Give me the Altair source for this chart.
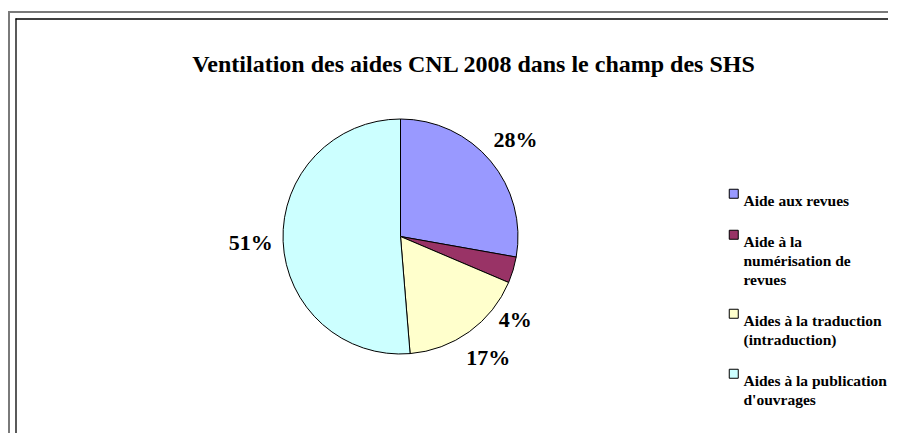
import json
import altair as alt
import pandas as pd

# ---- data ----
categories = [
    "Aide aux revues",
    "Aide à la numérisation de revues",
    "Aides à la traduction (intraduction)",
    "Aides à la publication d'ouvrages",
]
legend_lines = [
    ["Aide aux revues"],
    ["Aide à la", "numérisation de", "revues"],
    ["Aides à la traduction", "(intraduction)"],
    ["Aides à la publication", "d'ouvrages"],
]
shares = [27.8, 3.6, 17.3, 51.3]
pct_labels = ["28%", "4%", "17%", "51%"]
colors = ["#9999FF", "#993366", "#FFFFCC", "#CCFFFF"]
title_text = "Ventilation des aides CNL 2008 dans le champ des SHS"

df = pd.DataFrame({"cat": categories, "share": shares, "label": pct_labels,
                   "idx": list(range(len(categories)))})

FONT = "Liberation Serif"
PAD_TOP = 80
W, H_TOTAL = 881, 425
CX, CY = 392.5, 236.5 - 8 - PAD_TOP
R = 117.5

# legend label expression (multi-line labels)
expr = ""
for c, lines in zip(categories, legend_lines):
    arr = "[" + ",".join(json.dumps(l, ensure_ascii=False) for l in lines) + "]"
    expr += f"datum.label === {json.dumps(c, ensure_ascii=False)} ? {arr} : "
expr += "datum.label"

theta_scale = alt.Scale(domain=[0, 100])

arcs = alt.Chart(df).mark_arc(outerRadius=R, stroke="black", strokeWidth=1).encode(
    theta=alt.Theta("share:Q", stack=True, scale=theta_scale),
    color=alt.Color(
        "cat:N",
        scale=alt.Scale(domain=categories, range=colors),
        legend=alt.Legend(
            title=None, orient="none", legendX=718, legendY=98, padding=0,
            symbolType="square", symbolSize=81, symbolStrokeColor="black",
            symbolStrokeWidth=1, symbolOpacity=1,
            labelFont=FONT, labelFontSize=15.5, labelFontWeight="bold",
            labelColor="black", labelBaseline="top", labelOffset=2,
            labelLimit=400, labelExpr=expr, rowPadding=17,
        ),
    ),
    order=alt.Order("idx:Q"),
    x=alt.value(CX), y=alt.value(CY),
)

lab = alt.Chart(df).transform_window(
    cum="sum(share)", sort=[alt.SortField("idx")], frame=[None, 0]
).transform_calculate(mid="datum.cum - datum.share / 2")

main_labels = lab.transform_filter("datum.share >= 5").mark_text(
    radius=150, font=FONT, fontSize=22, fontWeight="bold", color="black"
).encode(
    theta=alt.Theta("mid:Q", scale=theta_scale), text="label:N",
    x=alt.value(CX), y=alt.value(CY),
)
small_labels = lab.transform_filter("datum.share < 5").mark_text(
    radius=142, thetaOffset=0.34, font=FONT, fontSize=22, fontWeight="bold", color="black"
).encode(
    theta=alt.Theta("mid:Q", scale=theta_scale), text="label:N",
    x=alt.value(CX), y=alt.value(CY),
)

# double frame of the chart sheet (left and top edges; right/bottom lie off-page)
frame_df = pd.DataFrame({"k": [0]})
outer_top = alt.Chart(frame_df).mark_rule(stroke="#7a7a7a", strokeWidth=2).encode(
    x=alt.value(0), x2=alt.value(W - 1), y=alt.value(4 - PAD_TOP))
outer_left = alt.Chart(frame_df).mark_rule(stroke="#7a7a7a", strokeWidth=2).encode(
    x=alt.value(1), y=alt.value(3 - PAD_TOP), y2=alt.value(H_TOTAL - PAD_TOP))
inner_top = alt.Chart(frame_df).mark_rule(stroke="black", strokeWidth=1.3).encode(
    x=alt.value(7.5), x2=alt.value(W - 1), y=alt.value(11 - PAD_TOP))
inner_left = alt.Chart(frame_df).mark_rule(stroke="black", strokeWidth=1.3).encode(
    x=alt.value(8), y=alt.value(10.5 - PAD_TOP), y2=alt.value(H_TOTAL - PAD_TOP))

chart = alt.layer(outer_top, outer_left, inner_top, inner_left,
                  arcs, main_labels, small_labels).properties(
    width=W, height=H_TOTAL - PAD_TOP,
    autosize=alt.AutoSizeParams(type="none"),
    padding={"left": 0, "top": PAD_TOP, "right": 0, "bottom": 0},
    title=alt.Title(title_text, font=FONT, fontSize=24, fontWeight="bold", color="black",
                    anchor="middle", frame="group", offset=-67, dx=25),
).configure(
    view=alt.ViewConfig(strokeOpacity=0, strokeWidth=0),
    style={"guide-label": {"lineHeight": 19}},
)

chart.save("out.html", embed_options={"renderer": "svg", "actions": False})
